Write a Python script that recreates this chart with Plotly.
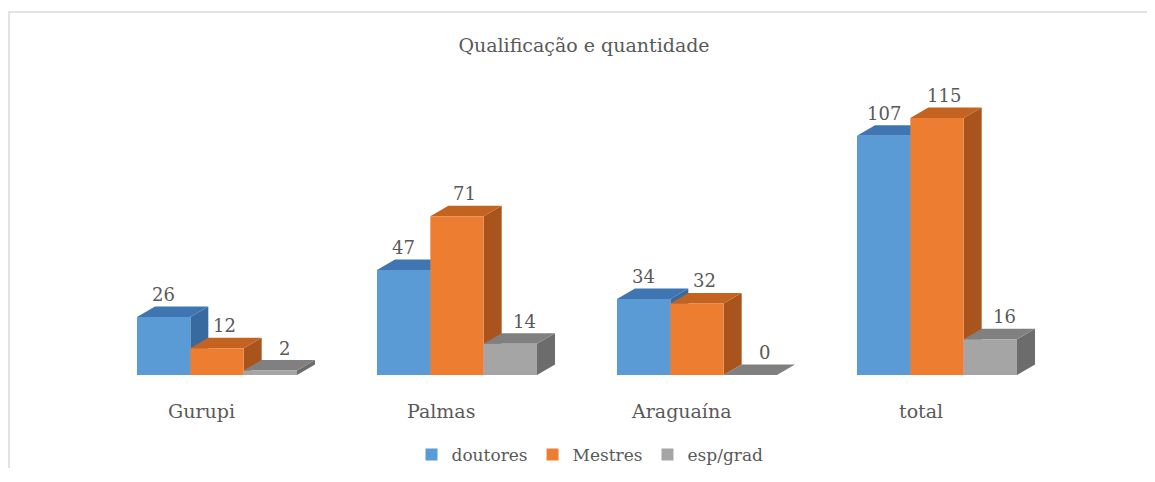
import plotly.graph_objects as go

# ---------------- data ----------------
categories = ["Gurupi", "Palmas", "Araguaína", "total"]
series_names = ["doutores", "Mestres", "esp/grad"]
doutores = [26, 47, 34, 107]
mestres = [12, 71, 32, 115]
esp_grad = [2, 14, 0, 16]
title_text = "Qualificação e quantidade"

series_values = [doutores, mestres, esp_grad]

# ---------------- style ----------------
OFF = 8  # page body margin
W, H = 1155 - OFF, 460
BASE_Y = 375 - OFF          # baseline, figure px
M_L, M_R, M_T = 97 - OFF, 98, 84 - OFF
M_B = H - BASE_Y
PX_PER_UNIT_Y = 2.235
front_colors = ["#5B9BD5", "#ED7D31", "#A5A5A5"]
top_colors = ["#3F76B1", "#C4621F", "#808080"]
side_colors = ["#386A9F", "#A9541C", "#6C6C6C"]
TXT = "#595959"
FONT = "DejaVu Serif"
DEPTH_PX_X, DEPTH_PX_Y = 18, 10.5

pw = W - M_L - M_R
ph = H - M_T - M_B
x_range = [-0.5, len(categories) - 0.5]
y_max = ph / PX_PER_UNIT_Y
px_x = pw / (x_range[1] - x_range[0])
dx = DEPTH_PX_X / px_x
dy = DEPTH_PX_Y / PX_PER_UNIT_Y

n_series = len(series_names)
group_w = 2 / 3
bar_w = group_w / n_series
xs = list(range(len(categories)))

fig = go.Figure()
shapes = []
annotations = []

for j, (name, vals) in enumerate(zip(series_names, series_values)):
    off = -group_w / 2 + j * bar_w
    fig.add_trace(go.Bar(
        x=xs, y=vals, name=name, width=bar_w, offset=off,
        marker=dict(color=front_colors[j], line=dict(width=0)),
        hoverinfo="name+y",
    ))
    for i, v in zip(xs, vals):
        L = i + off
        R = L + bar_w
        # side face
        shapes.append(dict(
            type="path", xref="x", yref="y", layer="below",
            path=f"M{R},0 L{R},{v} L{R+dx},{v+dy} L{R+dx},{dy} Z",
            fillcolor=side_colors[j], line=dict(width=0),
        ))
        # top face
        shapes.append(dict(
            type="path", xref="x", yref="y", layer="below",
            path=f"M{L},{v} L{R},{v} L{R+dx},{v+dy} L{L+dx},{v+dy} Z",
            fillcolor=top_colors[j], line=dict(width=0),
        ))
        # value label
        annotations.append(dict(
            x=(L + R) / 2 + j * 0.4 * dx, y=v + dy, xref="x", yref="y",
            text=str(v), showarrow=False, yanchor="middle", yshift=12,
            font=dict(family=FONT, size=18, color=TXT),
        ))

# category labels
for i, c in zip(xs, categories):
    annotations.append(dict(
        x=i - 16 / px_x, y=0, xref="x", yref="y", text=c, showarrow=False,
        yanchor="middle", yshift=-36,
        font=dict(family=FONT, size=19, color=TXT),
    ))

# chart frame (bottom edge falls outside the figure)
shapes.append(dict(
    type="rect", xref="paper", yref="paper", layer="below",
    x0=(9 - OFF - M_L) / pw, x1=(W + 4 - M_L) / pw,
    y0=(H - M_B - (H + 10)) / ph, y1=(H - M_B - (12 - OFF)) / ph,
    line=dict(color="#DADADA", width=1.5), fillcolor="rgba(0,0,0,0)",
))

fig.update_layout(
    width=W, height=H,
    margin=dict(l=M_L, r=M_R, t=M_T, b=M_B, autoexpand=False),
    paper_bgcolor="white", plot_bgcolor="white",
    barmode="overlay",
    title=dict(text=title_text, x=(584 - OFF) / W, xanchor="center",
               y=1 - (45 - OFF) / H, yanchor="middle",
               font=dict(family=FONT, size=19, color=TXT)),
    xaxis=dict(range=x_range, showticklabels=False, showgrid=False,
               zeroline=False, showline=False, fixedrange=True),
    yaxis=dict(range=[0, y_max], showticklabels=False, showgrid=False,
               zeroline=False, showline=False, fixedrange=True),
    legend=dict(orientation="h", x=(590 - OFF - M_L) / pw, xanchor="center",
                y=(H - M_B - (455 - OFF)) / ph, yanchor="middle",
                font=dict(family=FONT, size=17, color=TXT),
                bgcolor="rgba(0,0,0,0)", itemwidth=30),
    shapes=shapes,
    annotations=annotations,
    showlegend=True,
)

fig.write_html("out.html")
